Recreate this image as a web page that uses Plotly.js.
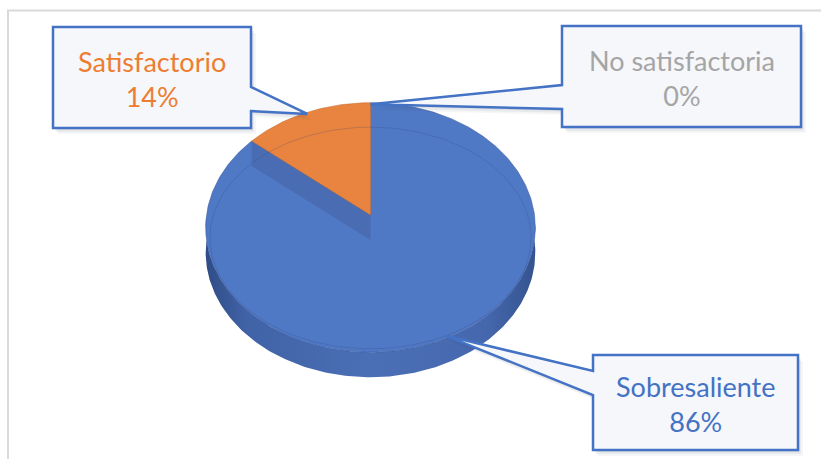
<!DOCTYPE html>
<html>
<head>
<meta charset="utf-8">
<script src="https://cdn.plot.ly/plotly-3.0.1.min.js"></script>
<style>html,body{margin:0;padding:0;background:#fff;}#chart{width:821px;height:459px;}</style>
</head>
<body>
<div id="chart"></div>
<script>
// ---- data ----
const categories = ['Sobresaliente', 'Satisfactorio', 'No satisfactoria'];
const values = [86, 14, 0];
const sliceColors = ['#5079C5', '#E8843F', '#A5A5A5'];
const labelColors = ['#4472C4', '#ED7D31', '#A5A5A5'];

// ---- geometry (layout) ----
const W = 821, H = 459;
const cx = 370.5, cy = 215, R = 164, r = 123.5, k = 0.1, depth = 25;
function proj(theta, s) {
  s = (s === undefined) ? 1 : s;
  const t = theta * Math.PI / 180;
  const D = 1 + k * s * Math.cos(t);
  return [cx + R * s * Math.sin(t) / D, cy - r * s * Math.cos(t) / D];
}
function arc(a0, a1, s, dy) {
  const xs = [], ys = [];
  const n = Math.max(2, Math.ceil(Math.abs(a1 - a0)));
  for (let i = 0; i <= n; i++) {
    const p = proj(a0 + (a1 - a0) * i / n, s);
    xs.push(p[0]); ys.push(p[1] + (dy || 0));
  }
  return [xs, ys];
}

const total = values.reduce((a, b) => a + b, 0);
const starts = [], ends = [];
let acc = 0;
values.forEach(v => { starts.push(acc / total * 360); acc += v; ends.push(acc / total * 360); });

const traces = [];
// side wall (front half)
{
  const top = arc(90, 270, 1, 0), bot = arc(270, 90, 1, depth);
  traces.push({
    x: top[0].concat(bot[0]), y: top[1].concat(bot[1]),
    type: 'scatter', mode: 'lines', fill: 'toself', line: {width: 0},
    fillcolor: '#4467AA',
    fillgradient: {type: 'horizontal', colorscale: [[0, '#2F4C85'], [0.12, '#4062A6'], [0.5, '#4B6FB5'], [0.85, '#4567AD'], [1, '#34538F']]},
    hoverinfo: 'skip', showlegend: false
  });
}
// top slices
values.forEach((v, i) => {
  const a = arc(starts[i], ends[i], 1, 0);
  traces.push({
    x: [cx].concat(a[0], [cx]), y: [cy].concat(a[1], [cy]),
    type: 'scatter', mode: 'lines', fill: 'toself', fillcolor: sliceColors[i],
    line: {width: v > 0 ? 0.8 : 0, color: i === 1 ? 'rgba(190,100,40,0.6)' : 'rgba(50,80,150,0.6)'},
    name: categories[i], hoverinfo: 'name', showlegend: false
  });
  // cut wall visible at the end of the first slice
  if (i === 0) {
    const c = proj(ends[0]);
    traces.push({
      x: [c[0], cx, cx, c[0], c[0]], y: [c[1], cy, cy + depth, c[1] + depth, c[1]],
      type: 'scatter', mode: 'lines', fill: 'toself', fillcolor: '#4A6CB2',
      line: {width: 0}, hoverinfo: 'skip', showlegend: false
    });
  }
});
// bevel ring
{
  const xs = [], ys = [];
  for (let t = 0; t <= 360; t += 2) {
    const tt = t * Math.PI / 180;
    const D = 1 + k * 0.9 * Math.cos(tt);
    xs.push(cx + R * 0.975 * Math.sin(tt) / D);
    ys.push(cy + 13 - r * 0.89 * Math.cos(tt) / D);
  }
  traces.push({x: xs, y: ys, type: 'scatter', mode: 'lines',
    line: {width: 1, color: 'rgba(40,60,120,0.22)'}, hoverinfo: 'skip', showlegend: false});
}

// ---- callouts ----
const boxes = [
  {x0: 593, y0: 355, x1: 798, y1: 450, side: 'left', n0: 371, n1: 395},
  {x0: 53, y0: 27, x1: 251, y1: 128, side: 'right', n0: 87, n1: 111},
  {x0: 562, y0: 26, x1: 801, y1: 127, side: 'left', n0: 85, n1: 109}
];
function calloutPath(b, tip, ox, oy) {
  ox = ox || 0; oy = oy || 0;
  const P = (x, y) => (x + ox).toFixed(1) + ',' + (y + oy).toFixed(1);
  if (b.side === 'left') {
    return 'M' + P(b.x0, b.y0) + ' L' + P(b.x1, b.y0) + ' L' + P(b.x1, b.y1) + ' L' + P(b.x0, b.y1) +
      ' L' + P(b.x0, b.n1) + ' L' + P(tip[0], tip[1]) + ' L' + P(b.x0, b.n0) + ' Z';
  }
  return 'M' + P(b.x0, b.y0) + ' L' + P(b.x1, b.y0) + ' L' + P(b.x1, b.n0) + ' L' + P(tip[0], tip[1]) +
    ' L' + P(b.x1, b.n1) + ' L' + P(b.x1, b.y1) + ' L' + P(b.x0, b.y1) + ' Z';
}
const shapes = [
  {type: 'rect', xref: 'x', yref: 'y', x0: 8, y0: 10.5, x1: 840, y1: 480, line: {color: '#D9D9D9', width: 2}, layer: 'below'}
];
const annotations = [];
values.forEach((v, i) => {
  const b = boxes[i];
  const mid = (starts[i] + ends[i]) / 2;
  const tip = proj(mid === 0 ? 0 : mid, 0.985);
  [[5, 6, 0.05], [3, 4, 0.07], [1.5, 2, 0.08]].forEach(s => {
    shapes.push({type: 'path', xref: 'x', yref: 'y', path: calloutPath(b, tip, s[0], s[1]),
      fillcolor: 'rgba(60,70,100,' + s[2] + ')', line: {width: 0}});
  });
  shapes.push({type: 'path', xref: 'x', yref: 'y', path: calloutPath(b, tip),
    fillcolor: '#F5F7FB', line: {color: '#4472C4', width: 2.5}});
  const pct = Math.round(v / total * 100) + '%';
  annotations.push({
    xref: 'x', yref: 'y', x: (b.x0 + b.x1) / 2, y: (b.y0 + b.y1) / 2 + 1,
    text: categories[i] + '<br>' + pct, showarrow: false, align: 'center',
    font: {family: 'Lato, "Open Sans", sans-serif', size: 27, color: labelColors[i]}
  });
});

const layout = {
  width: W, height: H, margin: {l: 0, r: 0, t: 0, b: 0},
  paper_bgcolor: '#FFFFFF', plot_bgcolor: '#FFFFFF',
  xaxis: {range: [0, W], visible: false, fixedrange: true},
  yaxis: {range: [H, 0], visible: false, fixedrange: true},
  shapes: shapes, annotations: annotations, showlegend: false
};
Plotly.newPlot('chart', traces, layout, {displayModeBar: false, staticPlot: true});
</script>
</body>
</html>
